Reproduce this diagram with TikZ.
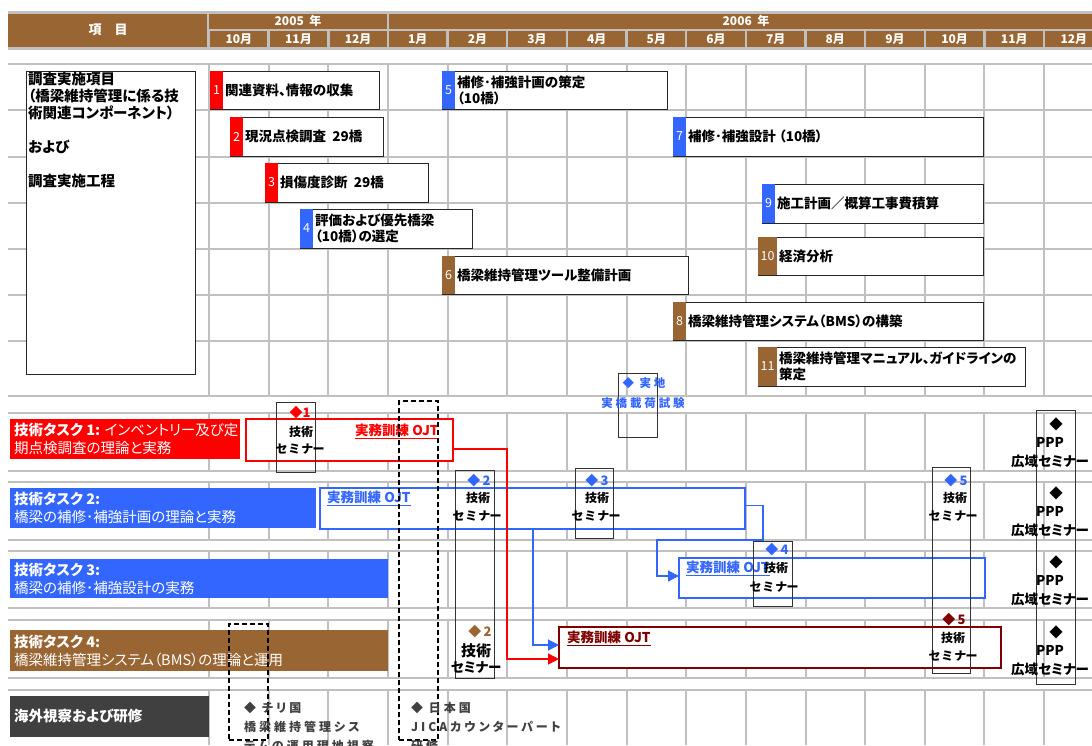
\documentclass[tikz,border=0pt]{standalone}
\usepackage{fontspec}
\setmainfont{Noto Sans CJK JP}[RawFeature=+palt]
\usetikzlibrary{arrows.meta}
\definecolor{gridg}{HTML}{C0C0C0}
\definecolor{brn}{HTML}{996633}
\definecolor{rd}{HTML}{FF0000}
\definecolor{bl}{HTML}{3366FF}
\definecolor{dred}{HTML}{800000}
\definecolor{dgray}{HTML}{404040}
\newcommand\rectnode[6][]{\node[#1,anchor=north west,inner sep=0pt,outer sep=0pt,minimum width={#4-#2},minimum height={#5-#3}] (#6) at (#2,#3) {};}
\newcommand\taskbox[9]{%
  \rectnode[draw=black!85,fill=white,line width=0.8pt]{#2}{#3}{#4}{#5}{#1}
  \fill[#6] (#2,#3) rectangle ({#2+#7},#5);
  \node[numtxt] (#1n) at ({#2+#7/2},{(#3+#5)/2}) {#8};
  \node[boxtxt] (#1t) at ({#2+#7+2},{(#3+#5)/2}) {#9};
}
\begin{document}
\begin{tikzpicture}[x=1pt,y=-1pt,
 hline/.style={gridg,line width=2.5pt},
 vline/.style={gridg,line width=2pt},
 hdr/.style={text=white,font=\bfseries\fontsize{12}{12}\selectfont,inner sep=0pt},
 boxtxt/.style={font=\bfseries\fontsize{13.5}{16}\selectfont,align=left,inner sep=0pt,anchor=west},
 numtxt/.style={text=white,font=\fontsize{12.5}{12.5}\selectfont,inner sep=0pt},
 tasklbl/.style={text=white,font=\fontsize{14.5}{18}\selectfont,align=left,inner sep=0pt,anchor=west},
 ojt/.style={draw,fill=white,line width=2pt},
 ojttxt/.style={font=\bfseries\fontsize{13.5}{13.5}\selectfont,inner sep=0pt,anchor=west},
 sembox/.style={draw=black!80,line width=0.8pt},
 semtxt/.style={font=\bfseries\fontsize{12}{12}\selectfont,inner sep=0pt},
 ppptxt/.style={font=\bfseries\fontsize{13.5}{13.5}\selectfont,inner sep=0pt},
 dashbox/.style={draw=black,line width=1.5pt,dash pattern=on 5pt off 3pt},
 conn/.style={line width=1.2pt,-{Triangle[length=11pt,width=11pt]}},
 bottxt/.style={text=dgray,font=\bfseries\fontsize{12}{12}\selectfont\addfontfeature{LetterSpace=25},inner sep=0pt,anchor=west},
]
\useasboundingbox (0,0) rectangle (1092,745);
\clip (0,0) rectangle (1092,745);
\fill[white] (0,0) rectangle (1092,745);

% ---------- header ----------
\fill[gridg] (8,11) rectangle (1092,50);
\fill[brn] (8,14) rectangle (207,47);
\node[hdr,font=\bfseries\fontsize{13}{13}\selectfont] (hitem) at (108,30) {項　目};
\fill[brn] (209,14) rectangle (387,29);
\fill[brn] (389,14) rectangle (1092,29);
\node[hdr] (y2005) at (298,21) {2005\ \ 年};
\node[hdr] (y2006) at (746,21) {2006\ \ 年};
\foreach \t [count=\i from 0] in {10月,11月,12月,1月,2月,3月,4月,5月,6月,7月,8月,9月,10月,11月,12月} {
  \fill[brn] ({209+59.65*\i+1.2},31) rectangle ({209+59.65*(\i+1)-1.2},47);
  \node[hdr] (mon\i) at ({209+59.65*(\i+0.5)},39) {\t};
}

% ---------- grid ----------
\foreach \i in {0,...,14} \draw[vline] ({209+59.65*\i},64) -- ({209+59.65*\i},396);
\foreach \a/\b in {413/471,482/540,551/608,620/678,690/745}
  \foreach \i in {0,...,14} \draw[vline] ({209+59.65*\i},\a) -- ({209+59.65*\i},\b);
\foreach \y in {64,110,157,203,249,295,341,396,413,471,482,540,551,608,620,678,690}
  \draw[hline] (8,\y) -- (1092,\y);

% ---------- left item box ----------
\rectnode[draw=black!85,fill=white,line width=0.8pt]{26}{71}{195}{374}{leftbox}
\node[anchor=north west,align=left,inner sep=0pt,font=\bfseries\fontsize{14.5}{17}\selectfont] (lefttext) at (28,72)
  {調査実施項目\\（橋梁維持管理に係る技\\術関連コンポーネント）\\[17pt]および\\[17pt]調査実施工程};

% ---------- activity boxes ----------
\taskbox{b1}{210}{71}{379}{109}{rd}{13}{1}{関連資料、情報の収集}
\taskbox{b2}{230}{117}{383}{156}{rd}{13}{2}{現況点検調査\ \ 29橋}
\taskbox{b3}{265}{163}{428}{202}{rd}{13}{3}{損傷度診断\ \ 29橋}
\taskbox{b4}{300}{209}{472}{248}{bl}{13}{4}{評価および優先橋梁\\（10橋）の選定}
\taskbox{b5}{442}{71}{667}{109}{bl}{13}{5}{補修･補強計画の策定\\（10橋）}
\taskbox{b6}{442}{256}{688}{294}{brn}{13}{6}{橋梁維持管理ツール整備計画}
\taskbox{b7}{673}{117}{983}{156}{bl}{13}{7}{補修･補強設計 （10橋）}
\taskbox{b8}{673}{302}{983}{340}{brn}{13}{8}{橋梁維持管理システム（BMS）の構築}
\taskbox{b9}{762}{184}{983}{223}{bl}{13}{9}{施工計画／概算工事費積算}
\taskbox{b10}{758}{237}{983}{275}{brn}{19}{10}{経済分析}
\taskbox{b11}{758}{347}{1025}{386}{brn}{19}{11}{橋梁維持管理マニュアル、ガイドラインの\\策定}

% ---------- technical task labels ----------
\rectnode[fill=rd]{10}{419}{240}{459}{task1}
\node[tasklbl] (task1t) at (14,439) {\textbf{技術タスク 1:} インベントリー及び定\\期点検調査の理論と実務};
\rectnode[fill=bl]{10}{488}{316}{528}{task2}
\node[tasklbl] (task2t) at (14,508) {\textbf{技術タスク 2:}\\橋梁の補修･補強計画の理論と実務};
\rectnode[fill=bl]{10}{559}{388}{598}{task3}
\node[tasklbl] (task3t) at (14,578.5) {\textbf{技術タスク 3:}\\橋梁の補修･補強設計の実務};
\rectnode[fill=brn]{10}{630}{388}{671}{task4}
\node[tasklbl] (task4t) at (14,650.5) {\textbf{技術タスク 4:}\\橋梁維持管理システム（BMS）の理論と運用};
\rectnode[fill=dgray]{10}{696}{209}{737}{task5}
\node[tasklbl,font=\bfseries\fontsize{14.5}{18}\selectfont] (task5t) at (14,716.5) {海外視察および研修};

% ---------- OJT boxes ----------
\rectnode[ojt,draw=rd]{246}{419}{453}{461}{ojtR}
\node[ojttxt,text=rd] (ojtRt) at (355,431) {\underline{実務訓練 OJT}};
\rectnode[ojt,draw=bl]{320}{488}{745}{529}{ojtB2}
\node[ojttxt,text=bl] (ojtB2t) at (327,498) {\underline{実務訓練 OJT}};
\rectnode[ojt,draw=bl]{679}{558}{985}{598}{ojtB3}
\node[ojttxt,text=bl] (ojtB3t) at (686,568) {\underline{実務訓練 OJT}};
\rectnode[ojt,draw=dred]{559}{627}{1001}{668}{ojtD}
\node[ojttxt,text=dred] (ojtDt) at (567,638) {\underline{実務訓練 OJT}};

% ---------- connectors ----------
\coordinate (rbend) at (507,659);
\draw[conn,color=rd] ([yshift=-9pt]ojtR.east) -| (rbend) -- (ojtD.west |- rbend);
\coordinate (b1bend) at (533,645);
\draw[conn,color=bl] (ojtB2.south -| b1bend) -- (b1bend) -- (ojtD.west |- b1bend);
\coordinate (b2a) at (763,540);
\coordinate (b2b) at (657,576);
\draw[conn,color=bl] ([yshift=3pt]ojtB2.east) -| (b2a) -| (b2b) -- (ojtB3.west |- b2b);

% ---------- seminar boxes ----------
\rectnode[sembox]{276}{402}{315}{472}{sem1}
\node[semtxt,text=rd,font=\bfseries\fontsize{13}{13}\selectfont] (sem1d) at (300,413) {◆1};
\node[semtxt] (sem1a) at (301,432) {技術};
\node[semtxt] (sem1b) at (300,449) {セ\kern2ptミ\kern2ptナー};

\rectnode[sembox]{455}{470}{494}{678}{sem2}
\node[semtxt,text=bl,font=\bfseries\fontsize{13}{13}\selectfont] (sem2d) at (479,481) {◆\,2};
\node[semtxt] (sem2a) at (478,498) {技術};
\node[semtxt] (sem2b) at (477,516) {セ\kern2ptミ\kern2ptナー};
\node[semtxt,text=brn,font=\bfseries\fontsize{13}{13}\selectfont] (sem2e) at (480,632) {◆\,2};
\node[semtxt,font=\bfseries\fontsize{15}{15}\selectfont] (sem2f) at (476,651) {技術};
\node[semtxt,font=\bfseries\fontsize{13.5}{13.5}\selectfont] (sem2g) at (476,668) {セミナー};

\rectnode[sembox]{575}{468}{613}{538}{sem3}
\node[semtxt,text=bl,font=\bfseries\fontsize{13}{13}\selectfont] (sem3d) at (597,481) {◆\,3};
\node[semtxt] (sem3a) at (597,498) {技術};
\node[semtxt] (sem3b) at (596,516) {セ\kern2ptミ\kern2ptナー};

\rectnode[sembox]{618}{373}{657}{437}{jichi}
\node[semtxt,text=bl,font=\bfseries\fontsize{11.5}{11.5}\selectfont\addfontfeature{LetterSpace=25}] (jichia) at (644,383) {◆ 実地};
\node[semtxt,text=bl,font=\bfseries\fontsize{11.5}{11.5}\selectfont\addfontfeature{LetterSpace=25}] (jichib) at (643,403) {実橋載荷試験};

\rectnode[sembox]{753}{541}{792}{606}{sem4}
\node[semtxt,text=bl,font=\bfseries\fontsize{13}{13}\selectfont] (sem4d) at (777,550) {◆\,4};
\node[semtxt] (sem4a) at (776,568) {技術};
\node[semtxt] (sem4b) at (774,587) {セ\kern2ptミ\kern2ptナー};

\rectnode[sembox]{932}{467}{970}{673}{sem5}
\node[semtxt,text=bl,font=\bfseries\fontsize{13}{13}\selectfont] (sem5d) at (956,481) {◆\,5};
\node[semtxt] (sem5a) at (955,498) {技術};
\node[semtxt] (sem5b) at (953,516) {セ\kern2ptミ\kern2ptナー};
\node[semtxt,text=dred,font=\bfseries\fontsize{13}{13}\selectfont] (sem5e) at (954,620) {◆\,5};
\node[semtxt] (sem5f) at (953,638) {技術};
\node[semtxt] (sem5g) at (953,656) {セ\kern2ptミ\kern2ptナー};

\rectnode[sembox]{1036}{410}{1075}{684}{ppp}
\foreach \dy [count=\k] in {0,69,138,208} {
  \node[ppptxt] (pppd\k) at (1056,{424+\dy}) {◆};
  \node[ppptxt] (pppa\k) at (1050,{442+\dy}) {PPP};
  \node[ppptxt] (pppb\k) at (1050,{461+\dy}) {広域セミナー};
}

% ---------- dashed boxes ----------
\rectnode[dashbox]{399}{401}{438}{740}{dash1}
\rectnode[dashbox]{229}{624}{268}{740}{dash2}

% ---------- bottom texts ----------
\node[bottxt] (chile1) at (244,708) {◆ チリ国};
\node[bottxt] (chile2) at (244,727) {橋梁維持管理シス};
\node[bottxt] (chile3) at (244,746) {テムの運用現地視察};
\node[bottxt] (japan1) at (411,708) {◆ 日本国};
\node[bottxt] (japan2) at (411,727) {JICAカウンターパート};
\node[bottxt] (japan3) at (411,746) {研修};
\end{tikzpicture}
\end{document}
